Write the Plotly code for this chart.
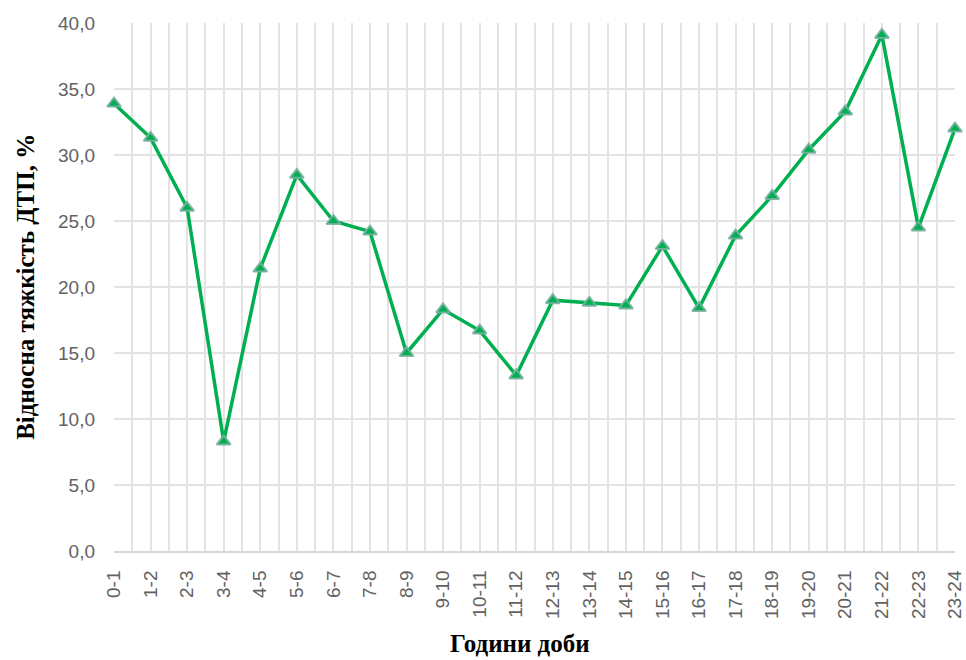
import plotly.graph_objects as go

hours = ["0-1", "1-2", "2-3", "3-4", "4-5", "5-6", "6-7", "7-8", "8-9", "9-10",
         "10-11", "11-12", "12-13", "13-14", "14-15", "15-16", "16-17", "17-18",
         "18-19", "19-20", "20-21", "21-22", "22-23", "23-24"]
severity = [33.9, 31.3, 26.0, 8.3, 21.4, 28.5, 25.0, 24.2, 15.0, 18.3,
            16.7, 13.3, 19.0, 18.8, 18.6, 23.1, 18.4, 23.9,
            26.9, 30.4, 33.3, 39.1, 24.5, 32.0]
y_ticks = [0, 5, 10, 15, 20, 25, 30, 35, 40]

x_pos = list(range(len(hours)))
grid = "#e3e3e3"
tick_font = dict(family="Liberation Sans", size=19, color="#626262")
title_font = dict(family="Liberation Serif", size=25, color="#000000", weight="bold")

fig = go.Figure(go.Scatter(
    x=x_pos, y=severity, mode="lines+markers",
    line=dict(color="#00B050", width=3.5),
    marker=dict(symbol="triangle-up", size=12, color="#00B050",
                line=dict(color="rgba(120,175,160,0.9)", width=2)),
    cliponaxis=False, showlegend=False,
))

fig.update_layout(
    width=966, height=660,
    margin=dict(l=114, r=11, t=23, b=109),
    plot_bgcolor="white", paper_bgcolor="white",
    separators=", ",
    xaxis=dict(
        range=[0, len(hours) - 1], tickmode="array", tickvals=x_pos, ticktext=hours,
        tickangle=-90, tickfont=tick_font, ticks="", ticklabelstandoff=10,
        automargin=False,
        showgrid=True, gridcolor=grid, gridwidth=1.5,
        minor=dict(tickvals=[i + 0.5 for i in x_pos[:-1]], showgrid=True,
                   gridcolor=grid, gridwidth=1.5),
        showline=True, linecolor="#d6d6d6", linewidth=1.8, zeroline=False,
    ),
    yaxis=dict(
        range=[0, 40], tickmode="array", tickvals=y_ticks, tickformat=".1f",
        tickfont=tick_font, ticks="", ticklabelstandoff=18, automargin=False,
        showgrid=True, gridcolor=grid, gridwidth=1.5, zeroline=False,
    ),
    annotations=[
        dict(text="Відносна тяжкість ДТП, %", xref="paper", yref="paper",
             x=-0.106, y=0.5, xanchor="center", yanchor="middle",
             textangle=-90, showarrow=False, font=title_font),
        dict(text="Години доби", xref="paper", yref="paper",
             x=0.483, y=-0.176, xanchor="center", yanchor="middle",
             showarrow=False, font=title_font),
    ],
)

fig.write_html("out.html")
